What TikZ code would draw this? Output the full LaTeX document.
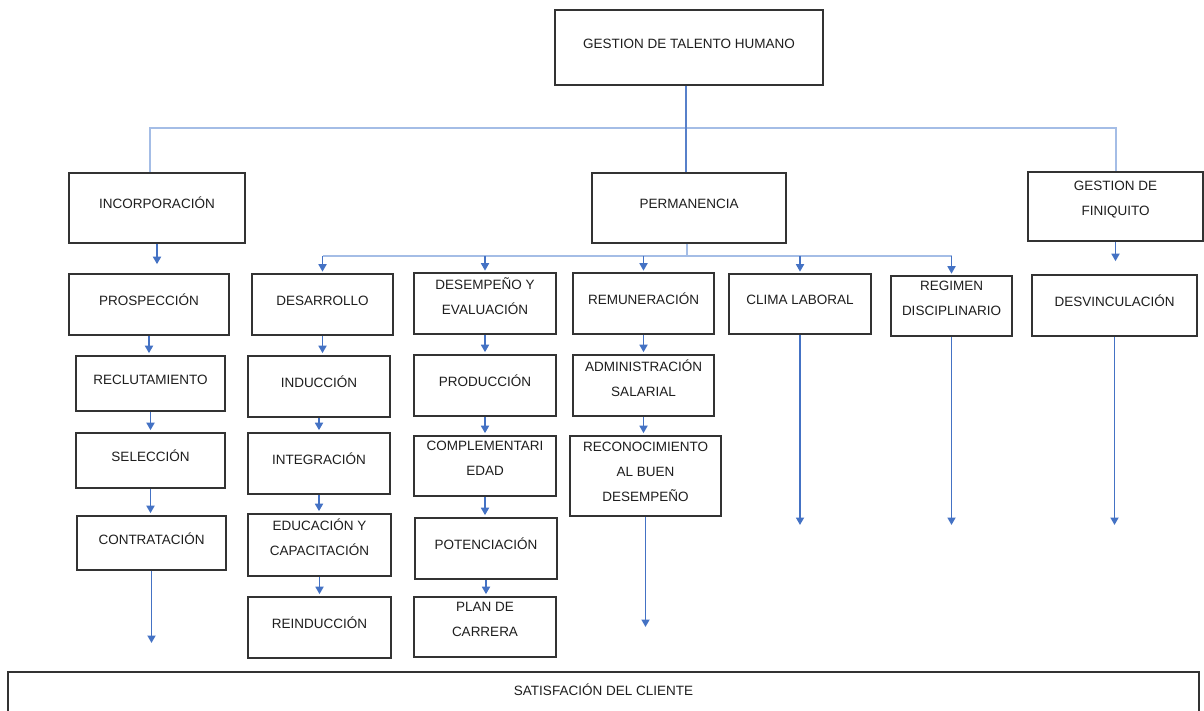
\documentclass[tikz,border=0pt]{standalone}
\usepackage{fontspec}
\setmainfont{Liberation Sans}
\usetikzlibrary{arrows.meta}
\definecolor{linkblue}{HTML}{4472C4}
\definecolor{busblue}{HTML}{A4BDE6}
\definecolor{frame}{HTML}{333333}
\definecolor{ink}{HTML}{1E1E1E}

\tikzset{
  boxbase/.style={draw=frame, line width=1.6pt, fill=white, align=center,
    inner sep=0pt, text=ink, font=\fontsize{13.5}{25}\selectfont,
    execute at begin node=\strut},
  % text sits slightly above the middle of the box
  box/.style={boxbase, execute at end node={\rule[-15.5pt]{0pt}{15.5pt}}},
  % text exactly in the middle of the box
  boxc/.style={boxbase, execute at end node=\strut},
  link/.style={draw=linkblue, line width=1.7pt, -{Triangle[width=8pt,length=7.5pt]}},
  bus/.style={draw=busblue, line width=1.7pt},
  trunk/.style={draw=linkblue!90, line width=2.2pt},
}

\begin{document}
\begin{tikzpicture}[x=1pt,y=-1pt]
\useasboundingbox (0,0) rectangle (1204,711);

% ---------- top level ----------
\node[box, minimum width=268pt, minimum height=75pt] (gth) at (689,47.5) {GESTION DE TALENTO HUMANO};

\node[box, minimum width=176pt, minimum height=70pt] (inc)  at (157,208)    {INCORPORACIÓN};
\node[box, minimum width=194pt, minimum height=70pt] (perm) at (689,208)    {PERMANENCIA};
\node[box, minimum width=175pt, minimum height=69pt] (fin)  at (1115.5,206.5) {GESTION DE\\FINIQUITO};

% ---------- incorporacion ----------
\node[box, minimum width=160pt, minimum height=61pt] (pros) at (149,304.5)   {PROSPECCIÓN};
\node[box, minimum width=149pt, minimum height=55pt] (recl) at (150.5,383.5) {RECLUTAMIENTO};
\node[box, minimum width=149pt, minimum height=55pt] (sele) at (150.5,460.5) {SELECCIÓN};
\node[box, minimum width=149pt, minimum height=54pt] (cont) at (151.5,543)   {CONTRATACIÓN};

% ---------- permanencia ----------
\node[box, minimum width=141pt, minimum height=61pt] (desa) at (322.5,304.5) {DESARROLLO};
\node[box, minimum width=142pt, minimum height=61pt] (indu) at (319,386.5)   {INDUCCIÓN};
\node[box, minimum width=142pt, minimum height=61pt] (inte) at (319,463.5)   {INTEGRACIÓN};
\node[box, minimum width=143pt, minimum height=62pt] (educ) at (319.5,545)   {EDUCACIÓN Y\\CAPACITACIÓN};
\node[box, minimum width=143pt, minimum height=61pt] (rein) at (319.5,627.5) {REINDUCCIÓN};

\node[box, minimum width=142pt, minimum height=61pt] (dese) at (485,303.5) {DESEMPEÑO Y\\EVALUACIÓN};
\node[box, minimum width=142pt, minimum height=61pt] (prod) at (485,385.5) {PRODUCCIÓN};
\node[box, minimum width=142pt, minimum height=60pt] (comp) at (485,466)   {COMPLEMENTARI\\EDAD};
\node[box, minimum width=142pt, minimum height=61pt] (pote) at (486,548.5) {POTENCIACIÓN};
\node[box, minimum width=142pt, minimum height=60pt] (plan) at (485,627)   {PLAN DE\\CARRERA};

\node[box,  minimum width=141pt, minimum height=61pt] (remu) at (643.5,303.5) {REMUNERACIÓN};
\node[box,  minimum width=141pt, minimum height=61pt] (admi) at (643.5,385.5) {ADMINISTRACIÓN\\SALARIAL};
\node[boxc, minimum width=151pt, minimum height=80pt] (reco) at (645.5,476)   {RECONOCIMIENTO\\AL BUEN\\DESEMPEÑO};

\node[box, minimum width=142pt, minimum height=60pt] (clim) at (800,304)   {CLIMA LABORAL};
\node[box, minimum width=121pt, minimum height=60pt] (regi) at (951.5,306) {REGIMEN\\DISCIPLINARIO};

% ---------- finiquito ----------
\node[box, minimum width=165pt, minimum height=61pt] (desv) at (1114.5,305.5) {DESVINCULACIÓN};

% ---------- bottom band ----------
\node[box, minimum width=1191pt, minimum height=44pt] (sat) at (603.5,694) {SATISFACIÓN DEL CLIENTE};

% ---------- connectors: first level ----------
\coordinate (busL) at (150,128);
\coordinate (busR) at (1116,128);
\draw[bus] (inc.north -| busL) |- (busR) -- (fin.north -| busR);
\draw[trunk] ([xshift=-3pt]gth.south) -- ([xshift=-3pt]perm.north);

\draw[link, shorten >=9pt]  (inc.south) -- (inc.south |- pros.north);
\draw[link, shorten >=13pt] (fin.south) -- (fin.south |- desv.north);

% ---------- connectors: permanencia branches ----------
\coordinate (pb) at (687,256);
\draw[bus] (perm.south -| pb) -- (pb);
\draw[bus] (pb -| desa.north) -- (pb -| regi.north);
\foreach \n in {desa,dese,remu,clim,regi}
  \draw[link, shorten >=1.5pt] (pb -| \n.north) -- (\n.north);

% ---------- connectors: columns ----------
\foreach \a/\b in {pros/recl, recl/sele, sele/cont,
                   desa/indu, indu/inte, inte/educ, educ/rein,
                   dese/prod, prod/comp, comp/pote, pote/plan,
                   remu/admi, admi/reco}
  \draw[link, shorten >=2pt] (\a.south) -- (\a.south |- \b.north);

% ---------- open-ended arrows ----------
\coordinate (endA) at (0,643);
\coordinate (endB) at (0,627);
\coordinate (endC) at (0,525);
\draw[link] (cont.south) -- (cont.south |- endA);
\draw[link] (reco.south) -- (reco.south |- endB);
\draw[link] (clim.south) -- (clim.south |- endC);
\draw[link] (regi.south) -- (regi.south |- endC);
\draw[link] (desv.south) -- (desv.south |- endC);
\end{tikzpicture}
\end{document}
